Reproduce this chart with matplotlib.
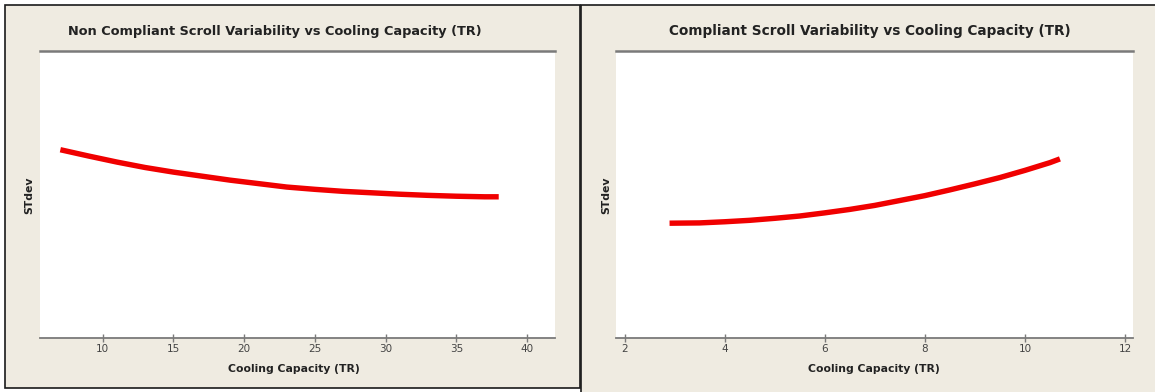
import matplotlib
matplotlib.use("Agg")
import matplotlib.pyplot as plt
from matplotlib.patches import Rectangle

# ---- data ----
left_title = "Non Compliant Scroll Variability vs Cooling Capacity (TR)"
right_title = "Compliant Scroll Variability vs Cooling Capacity (TR)"
x_label = "Cooling Capacity (TR)"
y_label = "STdev"

nc_capacity = [7, 9, 11, 13, 15, 17, 19, 21, 23, 25, 27, 29, 31, 33, 35, 37, 38]
nc_stdev = [0.656, 0.634, 0.613, 0.594, 0.578, 0.564, 0.550, 0.538, 0.526,
            0.518, 0.511, 0.506, 0.501, 0.497, 0.494, 0.492, 0.492]

c_capacity = [2.9, 3.5, 4.0, 4.5, 5.0, 5.5, 6.0, 6.5, 7.0, 7.5, 8.0, 8.5, 9.0,
              9.5, 10.0, 10.5, 10.7]
c_stdev = [0.400, 0.401, 0.405, 0.410, 0.417, 0.425, 0.436, 0.448, 0.462,
           0.479, 0.496, 0.516, 0.537, 0.559, 0.584, 0.611, 0.624]

left_ticks = [10, 15, 20, 25, 30, 35, 40]
right_ticks = [2, 4, 6, 8, 10, 12]

# ---- layout ----
W, H = 1155, 392
BEIGE = "#EFEBE1"
fig = plt.figure(figsize=(W / 100, H / 100), dpi=100, facecolor="white")


def frac(x0, y0, x1, y1):
    """pixel box (top-left origin) -> figure fraction [l, b, w, h]"""
    return [x0 / W, (H - y1) / H, (x1 - x0) / W, (y1 - y0) / H]


for box in [(5, 4.5, 580, 388), (581, 4.5, 1165, 400)]:
    l, b, w, h = frac(*box)
    fig.add_artist(Rectangle((l, b), w, h, transform=fig.transFigure,
                             facecolor=BEIGE, edgecolor="#1a1a1a", lw=1.2, zorder=0))


def make_axes(box, xs, ys, ticks, xlim, title, title_x, title_size, xlabel_x, ylabel_x):
    ax = fig.add_axes(frac(*box))
    ax.set_facecolor("white")
    ax.plot(xs, ys, color="#F00000", lw=3.9, solid_capstyle="butt")
    ax.set_xlim(*xlim)
    ax.set_ylim(0, 1)
    ax.set_xticks(ticks)
    ax.set_yticks([])
    for s in ["left", "right"]:
        ax.spines[s].set_visible(False)
    ax.spines["top"].set_color("#7a7a7a")
    ax.spines["top"].set_linewidth(1.8)
    ax.spines["bottom"].set_color("#7a7a7a")
    ax.spines["bottom"].set_linewidth(1.3)
    ax.tick_params(axis="x", direction="inout", length=6, width=1, color="#7a7a7a",
                   labelsize=7.5, labelcolor="#444444", pad=1.5)
    fig.text(title_x / W, (H - 31) / H, title, ha="center", va="center",
             fontsize=title_size, fontweight="bold", color="#222222")
    fig.text(xlabel_x / W, (H - 369) / H, x_label, ha="center", va="center",
             fontsize=7.8, fontweight="bold", color="#222222")
    fig.text(ylabel_x / W, (H - 195) / H, y_label, ha="center", va="center",
             rotation=90, fontsize=7.8, fontweight="bold", color="#222222")
    return ax


make_axes((40, 51, 555, 338), nc_capacity, nc_stdev, left_ticks, (5.56, 41.98),
          left_title, 275, 9.3, 294, 29)
make_axes((616, 51, 1133, 338), c_capacity, c_stdev, right_ticks, (1.83, 12.16),
          right_title, 870, 9.8, 874, 606)

fig.savefig("out.png", dpi=100, facecolor="white")
